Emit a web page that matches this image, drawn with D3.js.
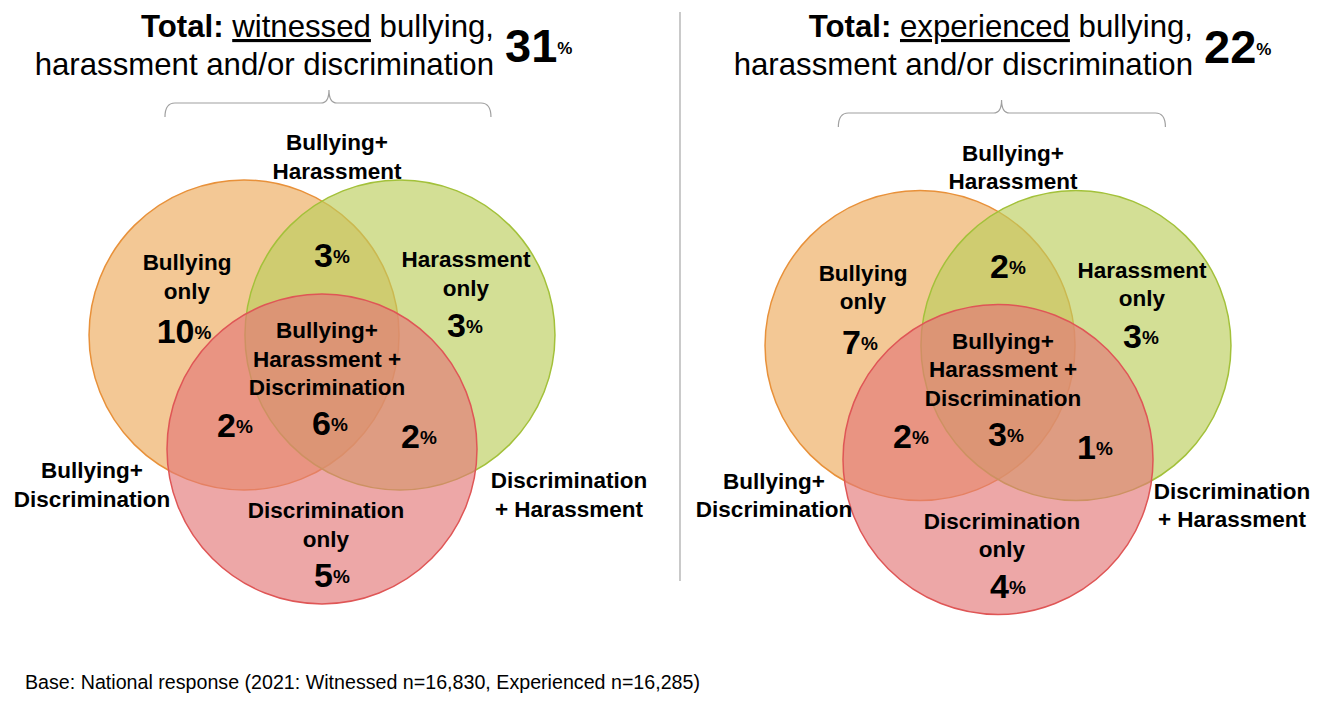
<!DOCTYPE html>
<html><head><meta charset="utf-8">
<script src="https://cdn.jsdelivr.net/npm/d3@7"></script>
<style>
html,body{margin:0;padding:0;background:#fff;}
svg{display:block;font-family:"Liberation Sans",Arial,sans-serif;}
</style></head>
<body>
<svg id="chart" width="1333" height="716"></svg>
<script>
// ---------- data ----------
const sets = ["Bullying", "Harassment", "Discrimination"];
const regionKeys = ["B", "H", "D", "BH", "BD", "DH", "BHD"];
const witnessedValues = [10, 3, 5, 3, 2, 2, 6];
const experiencedValues = [7, 3, 4, 2, 2, 1, 3];
const panelNames = ["witnessed", "experienced"];
const panelTotals = [31, 22];
const footnote = "Base: National response (2021: Witnessed n=16,830, Experienced n=16,285)";

// ---------- layout ----------
const svg = d3.select("#chart");
const R = 155;
const colors = {
  Bullying: {fill: "rgb(236,170,92)", stroke: "#E8913A"},
  Harassment: {fill: "rgb(188,206,92)", stroke: "#A3C13A"},
  Discrimination: {fill: "rgb(227,120,120)", stroke: "#DF5656"}
};
// circle centres in radius units
const centresUnit = {Bullying: [-0.503, 0], Harassment: [0.503, 0], Discrimination: [0, 0.735]};

const panels = [
  {cx: 322, cy: 335, titleX: 494, titleY: 37, numY: 62, values: witnessedValues, name: panelNames[0], total: panelTotals[0],
   outerBD: -230, outerDH: 247, brace: {y: 103, l: -1.013, r: 1.09, m: 0.045}},
  {cx: 998, cy: 345.5, titleX: 1193, titleY: 37, numY: 63, values: experiencedValues, name: panelNames[1], total: panelTotals[1],
   outerBD: -224, outerDH: 234, brace: {y: 113, l: -1.03, r: 1.08, m: 0.023}}
];

// region label offsets (px relative to panel centre)
const regionLayout = {
  B:   {num: [-138, 8],  lines: ["Bullying", "only"], lx: -135, ly: -65},
  H:   {num: [143, 2],   lines: ["Harassment", "only"], lx: 144, ly: -68},
  D:   {num: [10, 252],  lines: ["Discrimination", "only"], lx: 4, ly: 183},
  BH:  {num: [10, -68],  lines: [], lx: 0, ly: 0},
  BD:  {num: [-87, 102], lines: [], lx: 0, ly: 0},
  DH:  {num: [97, 113],  lines: [], lx: 0, ly: 0},
  BHD: {num: [8, 100],   lines: ["Bullying+", "Harassment +", "Discrimination"], lx: 5, ly: 3}
};
const LINE_H = 28.5;

panels.forEach((p, pi) => {
  const x = d3.scaleLinear().domain([-1, 1]).range([p.cx - R, p.cx + R]);
  const y = d3.scaleLinear().domain([-1, 1]).range([p.cy - R, p.cy + R]);
  const g = svg.append("g");

  // circles
  g.selectAll("circle").data(sets).join("circle")
    .attr("cx", d => x(centresUnit[d][0]))
    .attr("cy", d => y(centresUnit[d][1]))
    .attr("r", x(1) - x(0))
    .attr("fill", d => colors[d].fill)
    .attr("fill-opacity", 0.65)
    .attr("stroke", d => colors[d].stroke)
    .attr("stroke-width", 1.5);

  // region text labels
  regionKeys.forEach((k, i) => {
    const L = regionLayout[k];
    L.lines.forEach((t, j) => {
      g.append("text").attr("x", p.cx + L.lx).attr("y", p.cy + L.ly + j * LINE_H)
        .attr("text-anchor", "middle").attr("font-weight", "bold").attr("font-size", 22.5)
        .attr("fill", "#000").text(t);
    });
    const nt = g.append("text").attr("x", p.cx + L.num[0]).attr("y", p.cy + L.num[1])
      .attr("text-anchor", "middle").attr("font-weight", "bold").attr("fill", "#000");
    nt.append("tspan").attr("font-size", 34).text(p.values[i]);
    nt.append("tspan").attr("font-size", 19).attr("dy", -4).text("%");
  });

  // outer labels
  const outer = [
    {x: p.cx + 15, y: p.cy - 185, lines: ["Bullying+", "Harassment"]},
    {x: p.cx + p.outerBD, y: p.cy + 143, lines: ["Bullying+", "Discrimination"]},
    {x: p.cx + p.outerDH, y: p.cy + 153, lines: ["Discrimination", "+ Harassment"]}
  ];
  outer.forEach(o => o.lines.forEach((t, j) => {
    g.append("text").attr("x", o.x).attr("y", o.y + j * LINE_H)
      .attr("text-anchor", "middle").attr("font-weight", "bold").attr("font-size", 22.5)
      .attr("fill", "#000").text(t);
  }));

  // title
  const t1 = g.append("text").attr("x", p.titleX).attr("y", p.titleY)
    .attr("text-anchor", "end").attr("font-size", 31.2).attr("fill", "#000");
  t1.append("tspan").attr("font-weight", "bold").text("Total: ");
  t1.append("tspan").attr("text-decoration", "underline").text(p.name);
  t1.append("tspan").text(" bullying,");
  g.append("text").attr("x", p.titleX).attr("y", p.titleY + 38)
    .attr("text-anchor", "end").attr("font-size", 31.2).attr("fill", "#000")
    .text("harassment and/or discrimination");
  const tn = g.append("text").attr("x", p.titleX + 11).attr("y", p.numY)
    .attr("font-weight", "bold").attr("fill", "#000");
  tn.append("tspan").attr("font-size", 47).text(p.total);
  tn.append("tspan").attr("font-size", 17).attr("dy", -8).text("%");

  // brace
  const bl = x(p.brace.l), br = x(p.brace.r), bm = x(p.brace.m);
  const by = p.brace.y;
  const path = d3.path();
  path.moveTo(bl, by + 14);
  path.quadraticCurveTo(bl, by, bl + 10, by);
  path.lineTo(bm - 8, by);
  path.quadraticCurveTo(bm, by, bm, by - 13);
  path.quadraticCurveTo(bm, by, bm + 8, by);
  path.lineTo(br - 10, by);
  path.quadraticCurveTo(br, by, br, by + 14);
  g.append("path").attr("d", path.toString()).attr("fill", "none")
    .attr("stroke", "#A0A0A0").attr("stroke-width", 1.2);
});

// divider
svg.append("line").attr("x1", 680).attr("x2", 680).attr("y1", 12).attr("y2", 581)
  .attr("stroke", "#A6A6A6").attr("stroke-width", 1.2);

// footnote
svg.append("text").attr("x", 25).attr("y", 689).attr("font-size", 19.3).attr("fill", "#000")
  .attr("textLength", 675).attr("lengthAdjust", "spacingAndGlyphs")
  .text(footnote);
</script>
</body></html>
